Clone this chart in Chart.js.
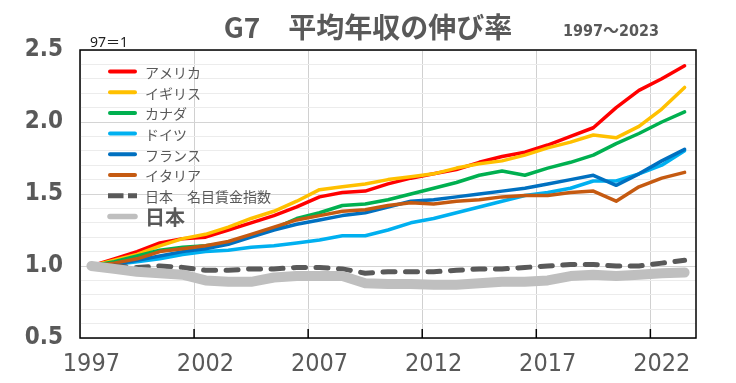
<!DOCTYPE html>
<html><head><meta charset="utf-8">
<script src="https://cdn.jsdelivr.net/npm/chart.js@4"></script>
<style>html,body{margin:0;padding:0;background:#fff}canvas{display:block}</style>
</head><body>
<canvas id="c" width="736" height="383"></canvas>
<script>
const years = ['1997','1998','1999','2000','2001','2002','2003','2004','2005','2006','2007','2008','2009','2010','2011','2012','2013','2014','2015','2016','2017','2018','2019','2020','2021','2022','2023'];
const usa      = [1.00,1.05,1.10,1.16,1.19,1.20,1.25,1.30,1.35,1.41,1.48,1.51,1.52,1.57,1.61,1.64,1.67,1.72,1.76,1.79,1.84,1.90,1.96,2.10,2.22,2.30,2.39];
const uk       = [1.00,1.04,1.08,1.14,1.19,1.22,1.27,1.33,1.38,1.45,1.53,1.55,1.57,1.60,1.62,1.64,1.68,1.71,1.73,1.77,1.82,1.86,1.91,1.89,1.97,2.09,2.24];
const canada   = [1.00,1.03,1.07,1.11,1.13,1.14,1.16,1.21,1.26,1.33,1.37,1.42,1.43,1.46,1.50,1.54,1.58,1.63,1.66,1.63,1.68,1.72,1.77,1.85,1.92,2.00,2.07];
const germany  = [1.00,1.01,1.03,1.05,1.08,1.10,1.11,1.13,1.14,1.16,1.18,1.21,1.21,1.25,1.30,1.33,1.37,1.41,1.45,1.49,1.51,1.54,1.59,1.59,1.64,1.70,1.80];
const france   = [1.00,1.01,1.04,1.07,1.10,1.12,1.15,1.20,1.25,1.29,1.32,1.35,1.37,1.41,1.45,1.46,1.48,1.50,1.52,1.54,1.57,1.60,1.63,1.56,1.64,1.73,1.81];
const italy    = [1.00,1.02,1.05,1.10,1.12,1.14,1.17,1.22,1.27,1.32,1.35,1.38,1.39,1.42,1.44,1.43,1.45,1.46,1.48,1.49,1.49,1.51,1.52,1.45,1.55,1.61,1.65];
const japanNominal = [1.00,1.00,0.99,1.00,0.99,0.97,0.97,0.98,0.98,0.99,0.99,0.98,0.95,0.96,0.96,0.96,0.97,0.98,0.98,0.99,1.00,1.01,1.01,1.00,1.00,1.02,1.04];
const japan    = [1.00,0.98,0.96,0.95,0.94,0.90,0.89,0.89,0.92,0.93,0.93,0.93,0.88,0.875,0.875,0.87,0.87,0.88,0.89,0.89,0.90,0.93,0.94,0.93,0.94,0.95,0.955];
const seriesNames = ['アメリカ','イギリス','カナダ','ドイツ','フランス','イタリア','日本　名目賃金指数','日本'];
const seriesColors = ['#FF0000','#FFC000','#00B050','#00B0F0','#0070C0','#C55A11','#595959','#BFBFBF'];
const seriesValues = [usa, uk, canada, germany, france, italy, japanNominal, japan];
const titleText = 'G7　平均年収の伸び率';
const subtitleText = '1997～2023';
const unitText = '97＝1';
const yMin = 0.5, yMax = 2.5, yMinorStep = 0.1, yMajorStep = 0.5;
const xLabelEvery = 5;

const GRAY = '#595959';
const N = seriesValues.length;
const datasets = seriesValues.map((vals, i) => {
  const isDash = i === 6, isJapan = i === 7;
  return {
    label: seriesNames[i],
    data: vals,
    borderColor: seriesColors[i],
    backgroundColor: seriesColors[i],
    borderWidth: isJapan ? 10 : (isDash ? 5 : 3.5),
    borderDash: isDash ? [12, 10.5] : [],
    borderCapStyle: 'round',
    borderJoinStyle: 'round',
    pointRadius: 0,
    tension: 0,
    fill: false,
    order: N - i
  };
});

function isMajor(v) { const r = v / yMajorStep; return Math.abs(r - Math.round(r)) < 1e-6; }

const decor = {
  id: 'decor',
  beforeDraw(chart) {
    const c = chart.ctx; c.save(); c.fillStyle = '#fff'; c.fillRect(0, 0, chart.width, chart.height); c.restore();
  },
  afterDraw(chart) {
    const c = chart.ctx, a = chart.chartArea, xs = chart.scales.x;
    c.save();
    c.strokeStyle = '#000'; c.lineWidth = 1.5;
    c.strokeRect(a.left, a.top, a.right - a.left, a.bottom - a.top);
    const half = (xs.getPixelForValue(1) - xs.getPixelForValue(0)) / 2;
    years.forEach((y, i) => {
      if (i > 0 && i % xLabelEvery === 0) {
        const px = xs.getPixelForValue(i) - half;
        c.beginPath(); c.moveTo(px, a.bottom); c.lineTo(px, a.bottom - 9); c.stroke();
      }
    });
    // title
    c.fillStyle = GRAY;
    c.textBaseline = 'middle';
    c.textAlign = 'center';
    c.font = 'bold 28px "Noto Sans CJK JP"';
    c.fillText(titleText, chart.width / 2, 27);
    c.textAlign = 'left';
    c.font = 'bold 16px "DejaVu Sans Condensed", "DejaVu Sans", "Noto Sans CJK JP"';
    c.fillText(subtitleText, 563, 32);
    c.fillStyle = '#222';
    c.font = '14px "Noto Sans", "Noto Sans CJK JP"';
    c.fillText(unitText, a.left + 10, 43);
    // legend
    const x0 = a.left + 30, x1 = a.left + 55, tx = a.left + 65;
    chart.data.datasets.forEach((ds, i) => {
      const y = a.top + 21.5 + i * 20.7;
      c.save();
      c.strokeStyle = ds.borderColor;
      c.lineCap = 'round';
      if (i === 6) { c.lineWidth = 5; c.lineCap = 'butt'; c.setLineDash([15.5, 4.5]); c.beginPath(); c.moveTo(x0 - 2, y); c.lineTo(x1 + 2, y); c.stroke(); }
      else { c.lineWidth = i === 7 ? 5.5 : 4; c.beginPath(); c.moveTo(x0, y); c.lineTo(x1, y); c.stroke(); }
      c.restore();
      c.fillStyle = GRAY;
      c.textBaseline = 'middle';
      c.textAlign = 'left';
      c.font = i === 7 ? 'bold 20px "Noto Sans CJK JP"' : '14px "Noto Sans CJK JP"';
      c.fillText(ds.label, tx, y + 1);
    });
    c.restore();
  }
};

new Chart(document.getElementById('c'), {
  type: 'line',
  data: { labels: years, datasets },
  options: {
    responsive: false,
    animation: false,
    devicePixelRatio: 1,
    layout: { padding: { left: 0, right: 40, top: 50, bottom: 0 } },
    plugins: { legend: { display: false }, tooltip: { enabled: false }, title: { display: false } },
    scales: {
      x: {
        type: 'category',
        offset: true,
        afterFit(s) { s.height = 45; },
        border: { display: false },
        grid: {
          offset: true,
          drawTicks: false,
          lineWidth: 1,
          color: (ctx) => (ctx.index % xLabelEvery === 0 ? '#d0d0d0' : 'rgba(0,0,0,0)')
        },
        ticks: {
          autoSkip: false,
          maxRotation: 0,
          padding: 11,
          color: GRAY,
          font: { family: '"DejaVu Sans Condensed", "DejaVu Sans"', size: 25 },
          callback: (v, i) => (i % xLabelEvery === 0 ? years[i] : '')
        }
      },
      y: {
        min: yMin, max: yMax,
        afterFit(s) { s.width = 80; },
        border: { display: false },
        grid: {
          drawTicks: false,
          lineWidth: 1,
          color: (ctx) => (isMajor(ctx.tick.value) ? '#d4d4d4' : '#ececec')
        },
        ticks: {
          stepSize: yMinorStep,
          autoSkip: false,
          padding: 17,
          color: GRAY,
          font: { family: '"DejaVu Sans Condensed", "DejaVu Sans"', size: 24, weight: 'bold' },
          callback: (v) => (isMajor(v) ? Number(v).toFixed(1) : '')
        }
      }
    }
  },
  plugins: [decor]
});
</script>
</body></html>
